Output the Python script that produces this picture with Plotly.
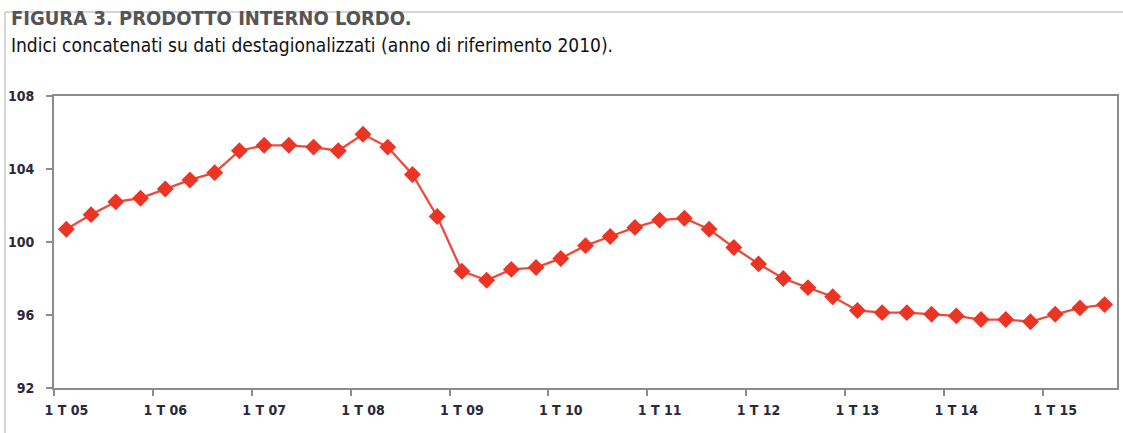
import plotly.graph_objects as go

# trimestri 1T05 .. 3T15
anni = ["05", "06", "07", "08", "09", "10", "11", "12", "13", "14", "15"]
trimestri = [f"{q} T {a}" for a in anni for q in (1, 2, 3, 4)][:43]

# indici concatenati, dati destagionalizzati (2010 = 100)
pil = [100.7, 101.5, 102.2, 102.4, 102.9, 103.4, 103.8, 105.0,
       105.3, 105.3, 105.2, 105.0, 105.9, 105.2, 103.7, 101.4,
       98.4, 97.9, 98.5, 98.6, 99.1, 99.8, 100.3, 100.8,
       101.2, 101.3, 100.7, 99.7, 98.8, 98.0, 97.5, 97.0,
       96.25, 96.13, 96.13, 96.04, 95.95, 95.75, 95.75, 95.63,
       96.04, 96.39, 96.57]

y_ticks = [92, 96, 100, 104, 108]

narrow = "DejaVu Sans Condensed, Liberation Sans Narrow, sans-serif"
rosso = "#EC3424"

fig = go.Figure()
fig.add_trace(go.Scatter(
    x=trimestri, y=pil, mode="lines+markers",
    line=dict(color="#EE4a3c", width=2.3),
    marker=dict(symbol="diamond", size=13, color=rosso),
    showlegend=False,
))

fig.update_layout(
    width=1123, height=433,
    margin=dict(l=54, r=6, t=96, b=45),
    paper_bgcolor="white", plot_bgcolor="white",
    font=dict(family=narrow, color="#333333"),
    xaxis=dict(
        type="category", tickmode="linear", tick0=0, dtick=4,
        tickson="boundaries", ticks="outside", ticklen=6, tickwidth=2,
        tickcolor="#8c8c8c", showgrid=False, tickangle=0, automargin=False,
        ticklabelstandoff=8,
        showline=True, linecolor="#8c8c8c", linewidth=2, mirror=True,
        tickfont=dict(size=14, family=narrow, color="#2a2a3a", weight="bold"),
        range=[-0.5, 42.5],
    ),
    yaxis=dict(
        range=[92, 108], tickvals=y_ticks, ticks="outside", ticklen=6,
        tickwidth=2, tickcolor="#8c8c8c", showgrid=False, automargin=False,
        ticklabelstandoff=9,
        showline=True, linecolor="#8c8c8c", linewidth=2, mirror=True,
        tickfont=dict(size=14, family=narrow, color="#2a2a3a", weight="bold"),
        zeroline=False,
    ),
)

fig.add_annotation(
    text="FIGURA 3. PRODOTTO INTERNO LORDO.", xref="paper", yref="paper",
    x=-45 / 1063, y=1.0 + 78 / 292, xanchor="left", yanchor="middle", showarrow=False,
    font=dict(size=20, family=narrow, color="#555555", weight="bold"),
)
fig.add_annotation(
    text="Indici concatenati su dati destagionalizzati (anno di riferimento 2010).",
    xref="paper", yref="paper",
    x=-45 / 1063, y=1.0 + 51 / 292, xanchor="left", yanchor="middle", showarrow=False,
    font=dict(size=19, family=narrow, color="#111111"),
)

# cornice esterna (solo lati superiore e sinistro)
fig.add_shape(type="line", xref="paper", yref="paper",
              x0=-49 / 1063, x1=1.01, y0=1 + 84 / 292, y1=1 + 84 / 292,
              line=dict(color="#c8c8c8", width=1.5))
fig.add_shape(type="line", xref="paper", yref="paper",
              x0=-49 / 1063, x1=-49 / 1063, y0=-0.2, y1=1 + 84 / 292,
              line=dict(color="#c8c8c8", width=1.5))

# niente margine di pagina: il grafico occupa tutta la finestra
fig.write_html("out.html", config={"displayModeBar": False},
               post_script="document.body.style.margin='0';")
